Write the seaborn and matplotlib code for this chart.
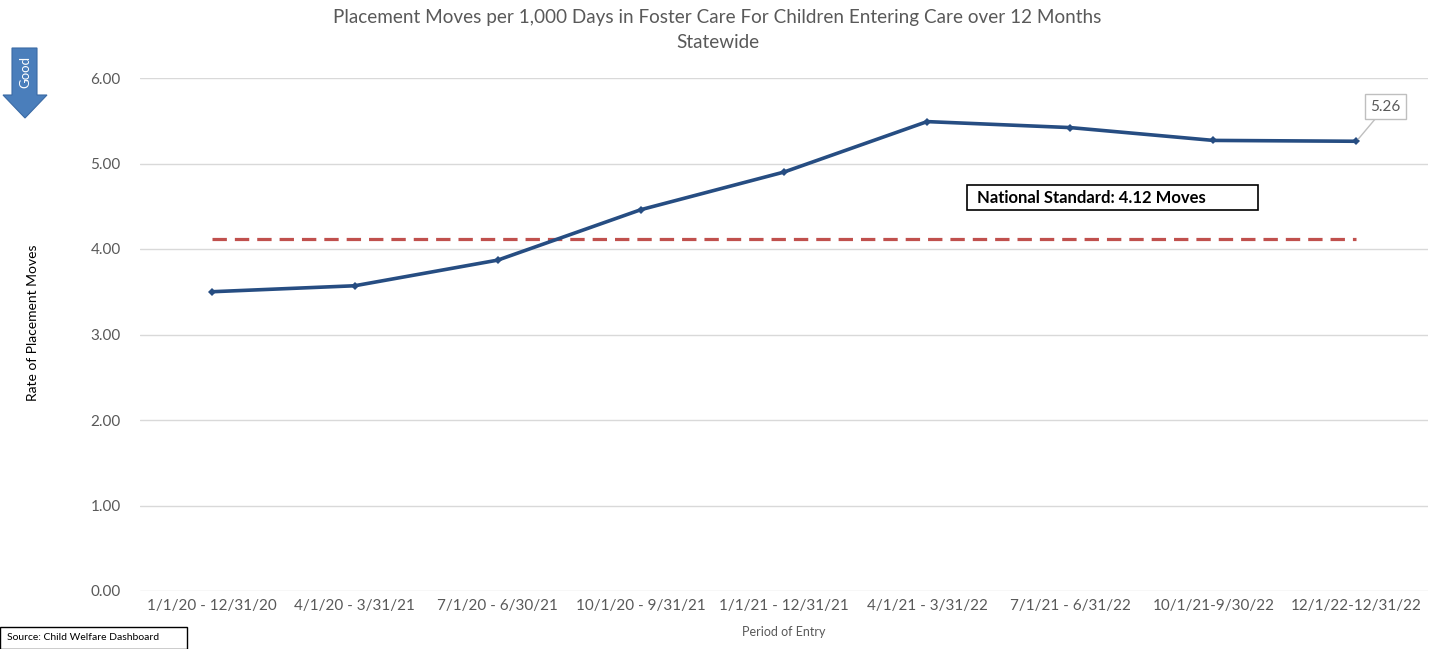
import matplotlib
matplotlib.use("Agg")
import matplotlib.pyplot as plt
from matplotlib.patches import Polygon, Rectangle
import seaborn as sns
import pandas as pd

periods = [
    "1/1/20 - 12/31/20", "4/1/20 - 3/31/21", "7/1/20 - 6/30/21",
    "10/1/20 - 9/31/21", "1/1/21 - 12/31/21", "4/1/21 - 3/31/22",
    "7/1/21 - 6/31/22", "10/1/21-9/30/22", "12/1/22-12/31/22",
]
rates = [3.50, 3.57, 3.87, 4.46, 4.90, 5.49, 5.42, 5.27, 5.26]
national_standard = 4.12
yticks = [0, 1, 2, 3, 4, 5, 6]

sns.set_theme(style="white")
plt.rcParams["font.family"] = ["Lato", "DejaVu Sans"]

W, H = 1435, 649
fig = plt.figure(figsize=(W / 100, H / 100), dpi=100)
ax = fig.add_axes([140 / W, 1 - 591 / H, (1428 - 140) / W, (591 - 78) / H])

df = pd.DataFrame({"period": periods, "rate": rates})
sns.lineplot(data=df, x="period", y="rate", sort=False, ax=ax,
             color="#264d82", linewidth=2.6, marker="D", markersize=4.5,
             markeredgewidth=0)

ax.plot([periods[0], periods[-1]], [national_standard] * 2,
        color="#c0504d", linewidth=2.3, linestyle=(0, (4.5, 2.5)), zorder=1)

ax.set_xlim(-0.5, len(periods) - 0.5)
ax.set_ylim(0, 6)
ax.set_yticks(yticks)
ax.set_yticklabels([f"{v:.2f}" for v in yticks])
ax.grid(axis="y", color="#d9d9d9", linewidth=1)
ax.set_axisbelow(True)
for s in ax.spines.values():
    s.set_visible(False)
ax.tick_params(axis="both", colors="#595959", labelsize=11, length=0, pad=6)
ax.tick_params(axis="y", pad=14)
ax.set_xlabel("Period of Entry", fontsize=9, color="#595959", labelpad=9)
ax.set_ylabel("")
fig.text(33 / W, 1 - 323 / H, "Rate of Placement Moves", rotation=90,
         ha="center", va="center", fontsize=10, color="black")

fig.text(0.5, 1 - 17 / H, "Placement Moves per 1,000 Days in Foster Care For Children Entering Care over 12 Months",
         ha="center", va="center", fontsize=13.6, color="#595959")
fig.text(0.5, 1 - 43 / H, "Statewide", ha="center", va="center", fontsize=13.6, color="#595959")

# national standard callout box
fig.patches.append(Rectangle((967 / W, 1 - 210 / H), (1258 - 967) / W, 25 / H,
                             transform=fig.transFigure, fc="white", ec="black", lw=1.2, zorder=5))
fig.text(977 / W, 1 - 197.5 / H, "National Standard: 4.12 Moves", ha="left", va="center",
         fontsize=12, fontweight="bold", color="black", zorder=6)

# last value label with leader line
last = len(periods) - 1
ax.annotate(f"{rates[-1]:.2f}", xy=(last, rates[-1]), xytext=(21, 25),
            textcoords="offset points", ha="center", va="center",
            fontsize=11, color="#595959", annotation_clip=False,
            bbox=dict(boxstyle="square,pad=0.35", fc="white", ec="#bfbfbf", lw=1),
            arrowprops=dict(arrowstyle="-", color="#bfbfbf", lw=1, shrinkA=0, shrinkB=2))

# "Good" direction arrow
arrow = [(12, 48), (37, 48), (37, 95), (47, 95), (25, 118), (3, 95), (12, 95)]
fig.patches.append(Polygon([(x / W, 1 - y / H) for x, y in arrow], closed=True,
                           transform=fig.transFigure, fc="#4a7ebb", ec="#3a6aa5", lw=0.8))
fig.text(25 / W, 1 - 72 / H, "Good", rotation=90, ha="center", va="center",
         fontsize=9.5, color="white")

# source note
fig.patches.append(Rectangle((0, 0), 187 / W, 22 / H, transform=fig.transFigure,
                             fc="white", ec="black", lw=1))
fig.text(7 / W, 1 - 638 / H, "Source: Child Welfare Dashboard", ha="left", va="center",
         fontsize=7.5, color="black")

fig.savefig("out.png", dpi=100)
